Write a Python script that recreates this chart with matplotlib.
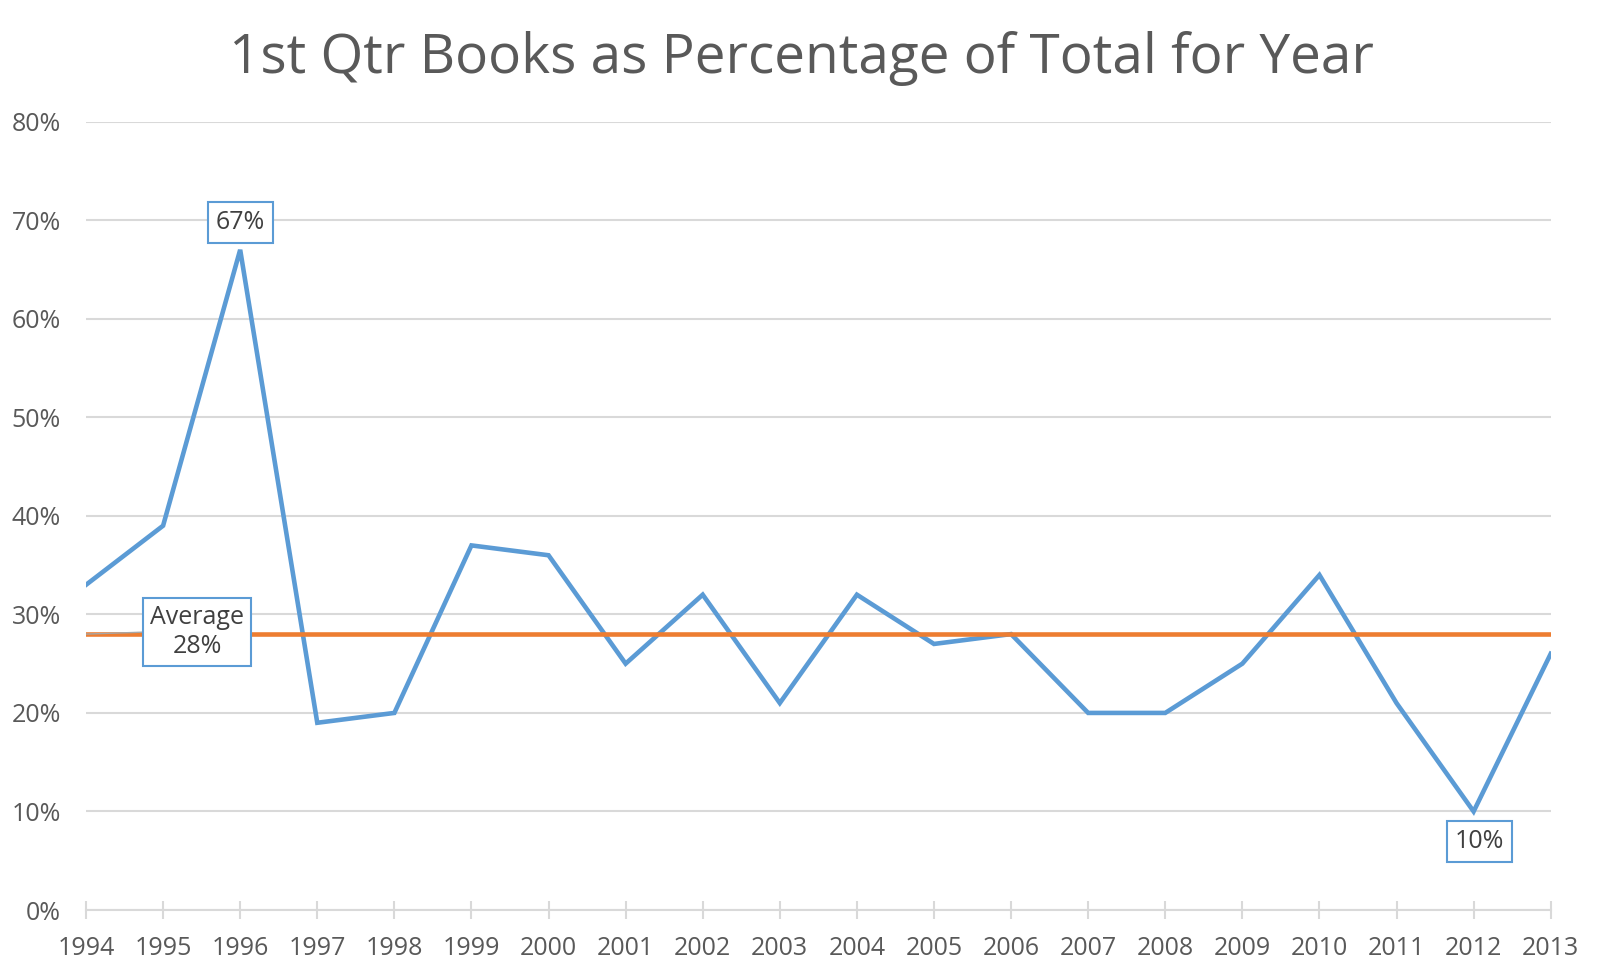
import numpy as np
import matplotlib
matplotlib.use("Agg")
import matplotlib.pyplot as plt
from matplotlib.ticker import FuncFormatter

plt.rcParams['font.family'] = ['Open Sans', 'DejaVu Sans']

# data
years = list(range(1994, 2014))
pct = [33, 39, 67, 19, 20, 37, 36, 25, 32, 21, 32, 27, 28, 20, 20, 25, 34, 21, 10, 26]
average = 28
title = "1st Qtr Books as Percentage of Total for Year"

blue = "#5B9BD5"
orange = "#ED7D31"
grid_c = "#D9D9D9"
text_c = "#595959"

fig = plt.figure(figsize=(16, 9.74), dpi=100)
ax = fig.add_axes([86/1600, 1 - 910/974, (1550.7 - 86)/1600, (910 - 121.7)/974])

ax.plot(years, pct, color=blue, lw=3.3, solid_joinstyle='miter', zorder=3)
ax.plot([years[0], years[-1]], [average, average], color=orange, lw=3.3, zorder=4)

ax.set_xlim(years[0], years[-1])
ax.set_ylim(0, 80)
ax.set_yticks(np.arange(0, 81, 10))
ax.yaxis.set_major_formatter(FuncFormatter(lambda v, p: f"{int(v)}%"))
ax.set_xticks(years)
ax.set_xticklabels([str(y) for y in years])

ax.grid(axis='y', color=grid_c, lw=1.5)
ax.set_axisbelow(True)
for s in ['top', 'right', 'left']:
    ax.spines[s].set_visible(False)
ax.spines['bottom'].set_color(grid_c)
ax.spines['bottom'].set_linewidth(1.5)
ax.tick_params(axis='x', direction='inout', length=13, width=1.5, color=grid_c,
               labelsize=18, labelcolor=text_c, pad=12)
ax.tick_params(axis='y', length=0, labelsize=18, labelcolor=text_c, pad=18)

fig.text(0.501, 0.940, title, ha='center', va='center', fontsize=39.5, color=text_c)

box = dict(boxstyle='square,pad=0.32', fc='white', ec=blue, lw=1.5)
ax.text(1996, 69.8, "67%", ha='center', va='center', fontsize=18, color='#404040', bbox=box, zorder=6)
ax.text(2012.08, 7.0, "10%", ha='center', va='center', fontsize=18, color='#404040', bbox=box, zorder=6)

# average callout with leader line
ax.plot([years[0], 1994.75], [average, 28.2], color='#A6A6A6', lw=1, zorder=5)
ax.text(1995.44, 28.2, "Average\n28%", ha='center', va='center', fontsize=18, color='#404040',
        linespacing=1.25, bbox=dict(boxstyle='square,pad=0.28', fc='white', ec=blue, lw=1.5), zorder=6)

fig.savefig("out.png", dpi=100, facecolor='white')
